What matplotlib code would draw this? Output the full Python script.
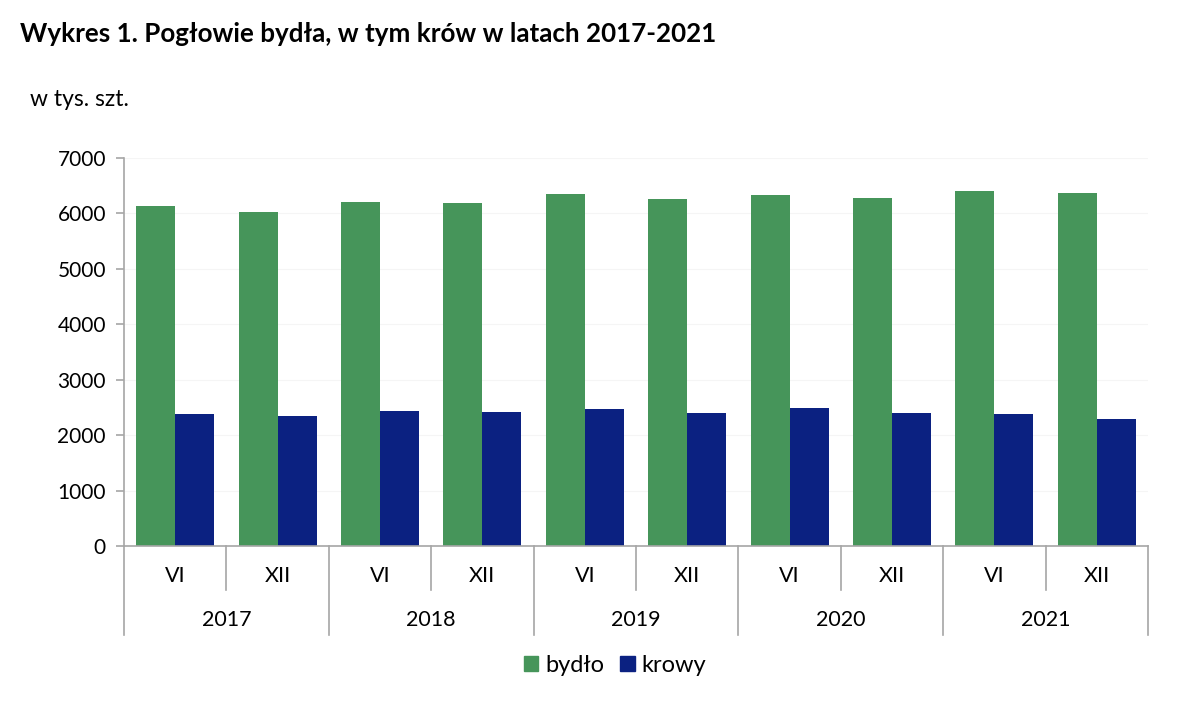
import matplotlib.pyplot as plt
import numpy as np

plt.rcParams['font.family'] = ['Lato', 'DejaVu Sans']

years = ['2017', '2018', '2019', '2020', '2021']
halves = ['VI', 'XII']
bydlo = [6134, 6030, 6206, 6188, 6350, 6262, 6332, 6280, 6404, 6368]
krowy = [2377, 2341, 2431, 2418, 2467, 2405, 2490, 2394, 2387, 2292]

green = '#46955a'
blue = '#0b2181'
axis_gray = '#a6a6a6'

W, H = 1186, 712
fig = plt.figure(figsize=(W / 100, H / 100), dpi=100)
ax = fig.add_axes([124 / W, 166 / H, 1024 / W, 388 / H])

n = len(bydlo)
x = np.arange(n)
bw = 0.38
ax.bar(x - bw / 2, bydlo, width=bw, color=green, zorder=2)
ax.bar(x + bw / 2, krowy, width=bw, color=blue, zorder=2)

ax.set_xlim(-0.5, n - 0.5)
ax.set_ylim(0, 7000)
ax.set_yticks(range(0, 7001, 1000))
ax.yaxis.grid(True, color='#f5f5f5', linewidth=0.8, zorder=0)
ax.set_axisbelow(True)

for s in ['top', 'right']:
    ax.spines[s].set_visible(False)
for s in ['left', 'bottom']:
    ax.spines[s].set_color(axis_gray)
    ax.spines[s].set_linewidth(1.2)

ax.tick_params(axis='y', length=6, width=1.2, color=axis_gray, labelsize=15, pad=7)
ax.set_xticks([])

# multi-level category axis
trans = ax.get_xaxis_transform()
for i in range(n + 1):
    ybot = -0.229 if i % 2 == 0 else -0.1134
    ax.plot([i - 0.5, i - 0.5], [0, ybot], color=axis_gray, lw=1.2,
            transform=trans, clip_on=False)
for i in range(n):
    ax.text(i, -0.077, halves[i % 2], transform=trans, ha='center', va='center',
            fontsize=15.5)
for j, yr in enumerate(years):
    ax.text(2 * j + 0.5, -0.191, yr, transform=trans, ha='center', va='center',
            fontsize=15.5)

fig.text(20 / W, 1 - 34 / H, 'Wykres 1. Pogłowie bydła, w tym krów w latach 2017-2021',
         fontsize=18.7, fontweight='bold', va='center', ha='left')
fig.text(30 / W, 1 - 100 / H, 'w tys. szt.', fontsize=16.5, va='center', ha='left')

# legend
handles = [plt.Rectangle((0, 0), 1, 1, color=green),
           plt.Rectangle((0, 0), 1, 1, color=blue)]
fig.legend(handles, ['bydło', 'krowy'], loc='center', bbox_to_anchor=(615 / W, 1 - 665 / H),
           ncol=2, frameon=False, fontsize=17, handlelength=0.6, handleheight=0.6,
           handletextpad=0.3, columnspacing=0.7)

fig.savefig('out.png', dpi=100)
